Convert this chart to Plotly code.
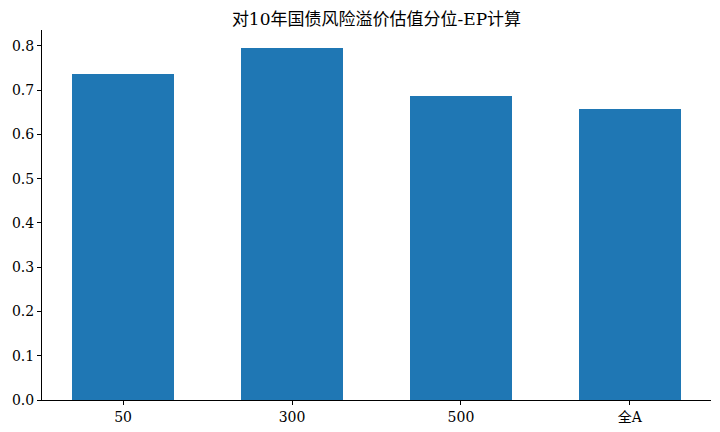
import plotly.graph_objects as go

categories = ["50", "300", "500", "全A"]
values = [0.736, 0.796, 0.688, 0.657]
title_text = "对10年国债风险溢价估值分位-EP计算"

font_family = "DejaVu Serif, Noto Sans CJK SC, serif"

fig = go.Figure(go.Bar(
    x=list(range(len(categories))),
    y=values,
    width=0.6,
    marker=dict(color="#1f77b4", line=dict(width=0)),
))

fig.update_layout(
    width=720, height=432,
    margin=dict(l=42, r=9, t=30, b=32, autoexpand=False),
    plot_bgcolor="white", paper_bgcolor="white",
    font=dict(family=font_family, size=14, color="black"),
    title=dict(text=title_text, x=(42 + 711) / 2 / 720, xanchor="center",
               y=1 - 19 / 432, yanchor="middle",
               font=dict(family=font_family, size=17, color="black")),
    showlegend=False,
    bargap=0,
)
fig.update_xaxes(
    range=[-0.48, 3.48], automargin=False,
    tickmode="array", tickvals=list(range(len(categories))), ticktext=categories,
    showline=True, linecolor="black", linewidth=1,
    ticks="outside", ticklen=4, tickcolor="black",
    showgrid=False, zeroline=False,
)
fig.update_yaxes(
    range=[0, 0.836], automargin=False,
    tickmode="array", tickvals=[i / 10 for i in range(9)],
    tickformat=".1f",
    showline=True, linecolor="black", linewidth=1,
    ticks="outside", ticklen=4, tickcolor="black",
    showgrid=False, zeroline=False,
)

fig.write_html("out.html", config={"displayModeBar": False},
               post_script="document.body.style.margin='0';")
